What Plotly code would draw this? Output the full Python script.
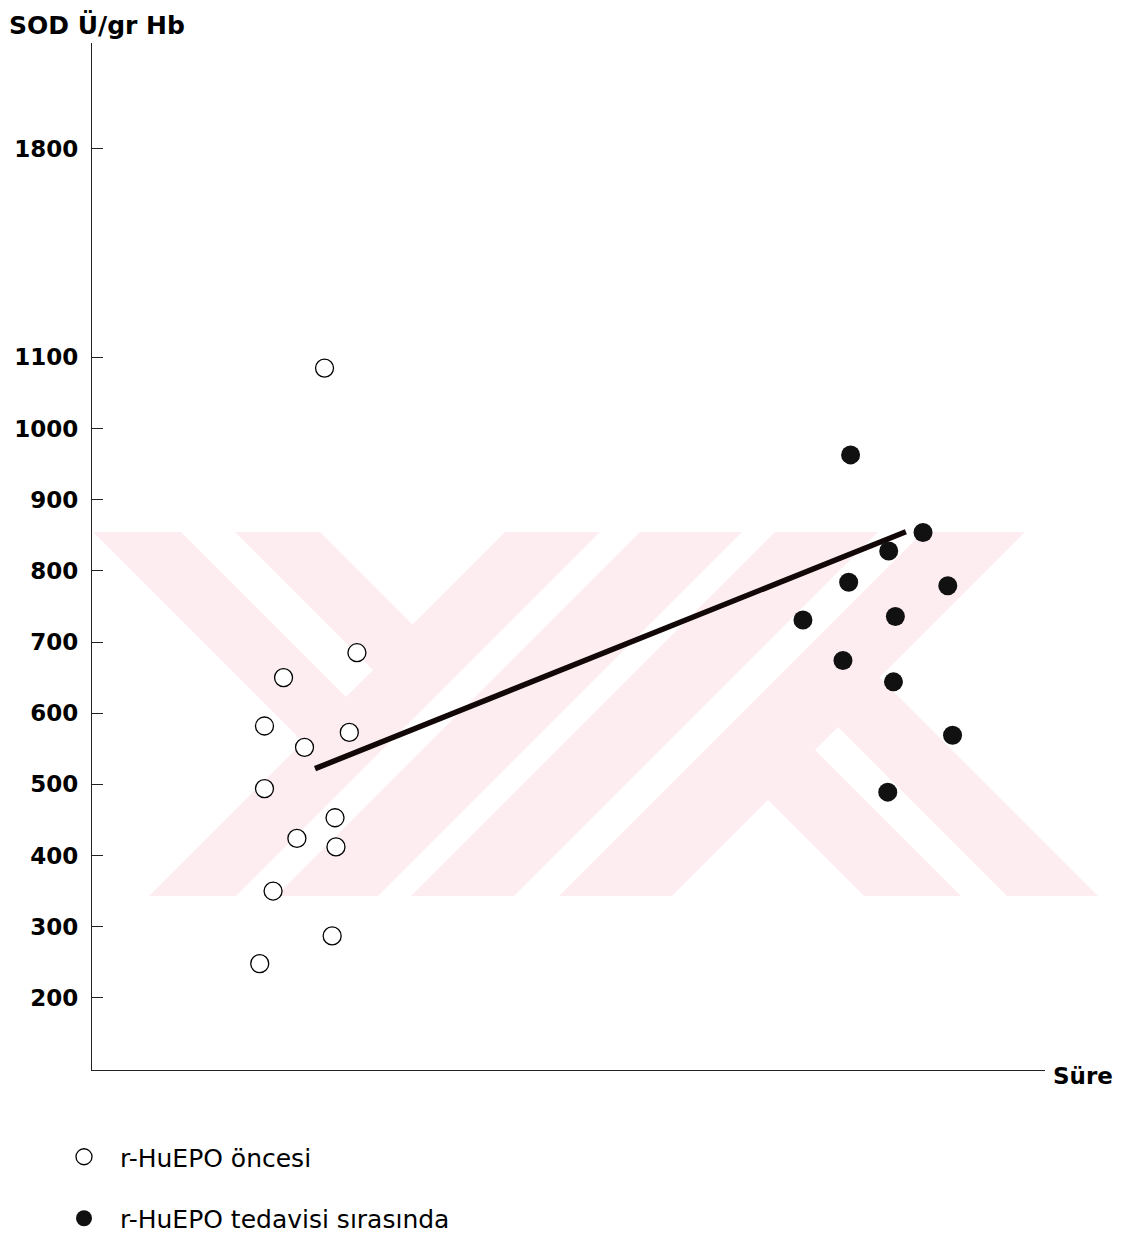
import plotly.graph_objects as go

# ---------------- data ----------------
# x = position along the time axis ("Süre", arbitrary units 0-100), y = SOD U/gr Hb
before_x = [24.4, 27.8, 20.1, 18.1, 27.0, 22.3, 18.1, 25.5, 21.5, 25.6, 19.0, 25.2, 17.6]
before_y = [1085, 685, 650, 582, 573, 552, 494, 453, 424, 412, 350, 287, 248]

during_x = [79.6, 87.2, 83.6, 79.4, 89.8, 74.6, 84.3, 78.8, 84.1, 90.3, 83.5]
during_y = [963, 854, 828, 784, 779, 731, 736, 674, 644, 569, 489]

trend_x = [23.4, 85.4]
trend_y = [522, 855]

# the axis is broken above 1100: the "1800" mark sits where 1393 would be
tick_vals = [200, 300, 400, 500, 600, 700, 800, 900, 1000, 1100, 1393]
tick_text = ["200", "300", "400", "500", "600", "700", "800", "900", "1000", "1100", "1800"]

name_before = "r-HuEPO öncesi"
name_during = "r-HuEPO tedavisi sırasında"
y_title = "SOD Ü/gr Hb"
x_title = "Süre"

# ---------------- layout geometry (reference pixel frame) ----------------
OFF = 8                      # default page margin of the html body
W, H = 1125 - OFF, 1243 - OFF
L, R, T, B = 92, 1045, 43, 1070
PW, PH = R - L, B - T

def px(x):
    return (x - L) / PW

def py(y):
    return (B - y) / PH

BOLD = "DejaVu Sans"

fig = go.Figure()

fig.add_trace(go.Scatter(
    x=trend_x, y=trend_y, mode="lines",
    line=dict(color="#120808", width=5.5),
    showlegend=False, hoverinfo="skip"))

fig.add_trace(go.Scatter(
    x=before_x, y=before_y, mode="markers", name=name_before,
    marker=dict(symbol="circle", size=18, color="white",
                line=dict(color="black", width=1.3)),
    legendgroup="a"))

fig.add_trace(go.Scatter(
    x=during_x, y=during_y, mode="markers", name=name_during,
    marker=dict(symbol="circle", size=19, color="#111111",
                line=dict(color="#111111", width=0)),
    legendgroup="b"))

# ---------------- faint background watermark ----------------
pink = "#fdedf0"
shapes = [dict(type="rect", xref="paper", yref="paper",
               x0=px(93), x1=px(1100), y0=py(896), y1=py(532),
               fillcolor=pink, line=dict(width=0), layer="below")]
white_polys = [
    [(93, 532), (303, 742), (149, 896), (93, 896)],
    [(181, 532), (235, 532), (373, 670), (346, 697)],
    [(320, 532), (505, 532), (412.5, 624.5)],
    [(600, 532), (640, 532), (276, 896), (236, 896)],
    [(742, 532), (775, 532), (411, 896), (378, 896)],
    [(878, 532), (923, 532), (559, 896), (514, 896)],
    [(1025, 532), (1110, 532), (1110, 896), (1098, 896), (879.5, 677.5)],
    [(768, 800), (864, 896), (672, 896)],
    [(838, 727), (815, 750), (961, 896), (1007, 896)],
]
for poly in white_polys:
    path = "M " + " L ".join(f"{px(a):.5f},{py(b):.5f}" for a, b in poly) + " Z"
    shapes.append(dict(type="path", xref="paper", yref="paper", path=path,
                       fillcolor="white", line=dict(width=0), layer="below"))

fig.update_layout(
    width=W, height=H,
    margin=dict(l=L - OFF, r=W - (R - OFF), t=T - OFF, b=H - (B - OFF), pad=0),
    paper_bgcolor="white", plot_bgcolor="rgba(0,0,0,0)",
    shapes=shapes,
    xaxis=dict(range=[0, 100], showgrid=False, zeroline=False, automargin=False,
               showline=True, linecolor="#222", linewidth=1.3,
               showticklabels=False, ticks=""),
    yaxis=dict(range=[98.5, 1541.9], showgrid=False, zeroline=False, automargin=False,
               showline=True, linecolor="#222", linewidth=1.3,
               tickmode="array", tickvals=tick_vals, ticktext=tick_text,
               ticks="inside", ticklen=11, tickwidth=1.3, tickcolor="#222",
               ticklabelstandoff=8,
               tickfont=dict(family=BOLD, size=23, color="black", weight="bold")),
    showlegend=True,
    legend=dict(x=px(48), y=1 - (1134 - OFF) / H,
                xanchor="left", yanchor="top",
                xref="paper", yref="container", orientation="v",
                font=dict(family=BOLD, size=25, color="black"),
                traceorder="grouped", tracegroupgap=26,
                itemsizing="trace", itemwidth=62,
                bgcolor="rgba(0,0,0,0)"),
    annotations=[
        dict(text=y_title, xref="paper", yref="paper", x=px(7), y=py(8),
             xanchor="left", yanchor="top", showarrow=False,
             font=dict(family=BOLD, size=25, color="black", weight="bold")),
        dict(text=x_title, xref="paper", yref="paper", x=px(1051), y=py(1076),
             xanchor="left", yanchor="middle", showarrow=False,
             font=dict(family=BOLD, size=23, color="black", weight="bold")),
    ],
)

fig.write_html("out.html")
